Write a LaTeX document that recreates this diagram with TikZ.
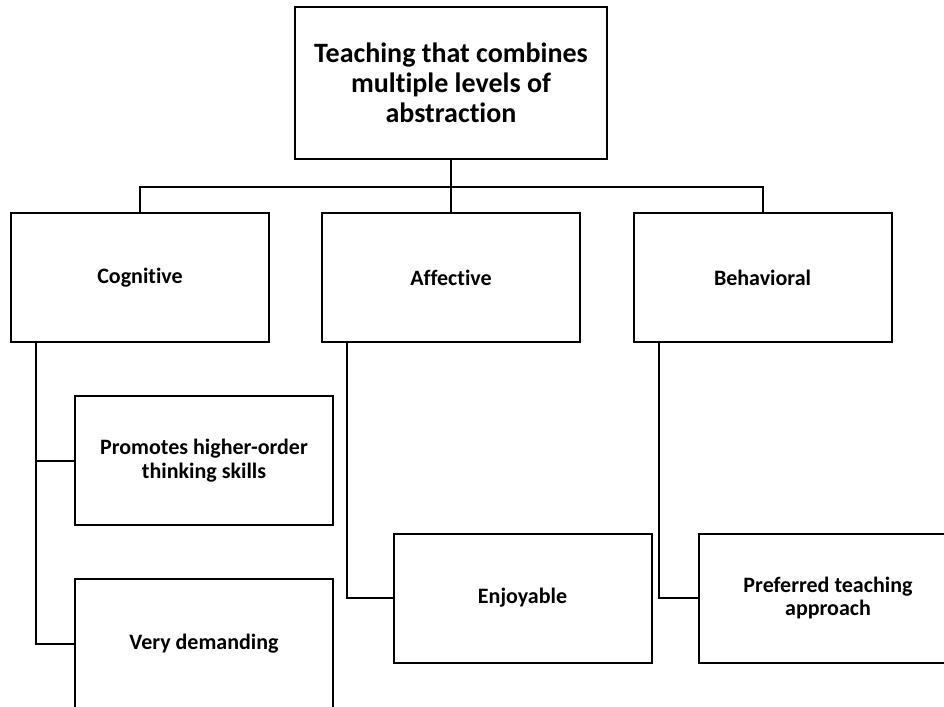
\documentclass[tikz,border=0pt]{standalone}
\usepackage{fontspec}
\setmainfont{Carlito}[Ligatures=NoCommon]
\usetikzlibrary{positioning}

\begin{document}
\begin{tikzpicture}[x=1pt, y=-1pt,
  box/.style={draw, line width=2pt, minimum width=258pt, minimum height=129pt,
    inner sep=0pt, align=center, font=\bfseries\fontsize{22}{23.5}\selectfont},
  link/.style={line width=2pt}]
\newcommand{\off}{26}
\useasboundingbox (0,0) rectangle (944,706);
\clip (0,0) rectangle (944,706);
% root
\node[box, minimum width=312pt, minimum height=152pt,
  font=\bfseries\fontsize{28}{30}\selectfont] (root) at (451,83)
  {Teaching that combines\\multiple levels of\\abstraction};
% three domains
\node[box] (cog) at (140,277.5) {Cognitive};
\node[box] (aff) at (451,277.5) {Affective};
\node[box] (beh) at (762.5,277.5) {Behavioral};
% outcomes
\node[box] (hot) at (204,460.5) {Promotes higher-order\\thinking skills};
\node[box] (dem) at (204,643.5) {Very demanding};
\node[box] (enj) at (522.5,598) {Enjoyable};
\node[box] (pref) at (828,598) {Preferred teaching\\approach};
% tree
\draw[link] (root.south) -- ++(0,27) coordinate (fork);
\draw[link] (fork) -| (cog.north);
\draw[link] (fork) -| (beh.north);
\draw[link] (fork) -- (aff.north);
\draw[link] ([xshift=\off pt]cog.south west) |- (hot.west);
\draw[link] ([xshift=\off pt]cog.south west) |- (dem.west);
\draw[link] ([xshift=\off pt]aff.south west) |- (enj.west);
\draw[link] ([xshift=\off pt]beh.south west) |- (pref.west);
\end{tikzpicture}
\end{document}
